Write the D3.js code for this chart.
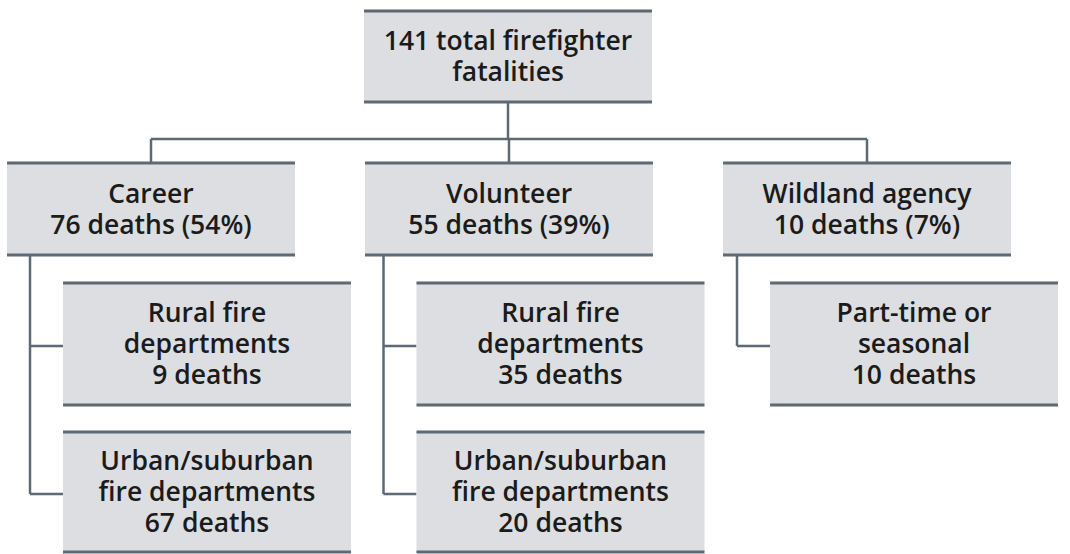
<!DOCTYPE html>
<html>
<head>
<meta charset="utf-8">
<script src="https://cdn.jsdelivr.net/npm/d3@7"></script>
<style>
  body { margin: 0; background: #fff; }
  svg text { font-family: "Open Sans", "Noto Sans", sans-serif; font-weight: 600; fill: #1b1b1b; }
</style>
</head>
<body>
<div id="canvas"></div>
<script>
const root_label = ["141 total firefighter", "fatalities"];
const groups = ["Career", "Volunteer", "Wildland agency"];
const group_deaths = [76, 55, 10];
const group_shares = [54, 39, 7];
const sub_labels = [
  [["Rural fire", "departments"], ["Urban/suburban", "fire departments"]],
  [["Rural fire", "departments"], ["Urban/suburban", "fire departments"]],
  [["Part-time or", "seasonal"]]
];
const sub_deaths = [[9, 67], [35, 20], [10]];

const width = 1070, height = 554;
const box_w = 288;
const line_h = 31;
const fill = '#dcdee1';
const stroke = '#5e6973';

// rows: [top, bottom]
const rows = {
  root: [11, 102],
  group: [163, 255],
  sub: [[283, 405], [432, 552]]
};
const link_y = 139;

let svg = d3.select('#canvas')
  .append('svg')
  .attr('width', width)
  .attr('height', height);

const x_group = d3.scaleBand()
  .domain(groups)
  .range([7, 7 + box_w * 3 + 70 * 2])
  .paddingInner(70 / (box_w + 70));

const x_sub = d3.scaleBand()
  .domain(groups)
  .range([63, 63 + box_w * 3 + 65.5 * 2])
  .paddingInner(65.5 / (box_w + 65.5));

const root_x = (width - box_w) / 2 - 27;

function drawBox(x, y0, y1, lines) {
  const g = svg.append('g');
  g.append('rect')
    .attr('x', x).attr('y', y0)
    .attr('width', box_w).attr('height', y1 - y0)
    .attr('fill', fill);
  [y0, y1].forEach((y) => {
    g.append('line')
      .attr('x1', x).attr('x2', x + box_w)
      .attr('y1', y).attr('y2', y)
      .attr('stroke', stroke).attr('stroke-width', 3);
  });
  const cy = (y0 + y1) / 2;
  const first = cy - (lines.length - 1) * line_h / 2 + 9;
  g.selectAll('text')
    .data(lines)
    .join('text')
    .attr('x', x + box_w / 2)
    .attr('y', (d, i) => first + i * line_h)
    .attr('text-anchor', 'middle')
    .attr('font-size', '26.5px')
    .text((d) => d);
}

function link(points) {
  svg.append('path')
    .attr('d', d3.line()(points))
    .attr('fill', 'none')
    .attr('stroke', stroke)
    .attr('stroke-width', 2.5);
}

// connectors
const root_cx = root_x + box_w / 2;
link([[root_cx, rows.root[1]], [root_cx, link_y]]);
const centers = groups.map((g) => x_group(g) + box_w / 2);
link([[centers[0], link_y], [centers[centers.length - 1], link_y]]);
centers.forEach((cx) => link([[cx, link_y], [cx, rows.group[0]]]));

groups.forEach((g, i) => {
  const vx = x_sub(g) - 33;
  const ys = sub_deaths[i].map((d, j) => (rows.sub[j][0] + rows.sub[j][1]) / 2 + 2);
  link([[vx, rows.group[1]], [vx, ys[ys.length - 1]]]);
  ys.forEach((y) => link([[vx, y], [x_sub(g), y]]));
});

// boxes
drawBox(root_x, rows.root[0], rows.root[1], root_label);
groups.forEach((g, i) => {
  drawBox(x_group(g), rows.group[0], rows.group[1],
    [g, `${group_deaths[i]} deaths (${group_shares[i]}%)`]);
  sub_deaths[i].forEach((d, j) => {
    drawBox(x_sub(g), rows.sub[j][0], rows.sub[j][1],
      sub_labels[i][j].concat([`${d} deaths`]));
  });
});
</script>
</body>
</html>
